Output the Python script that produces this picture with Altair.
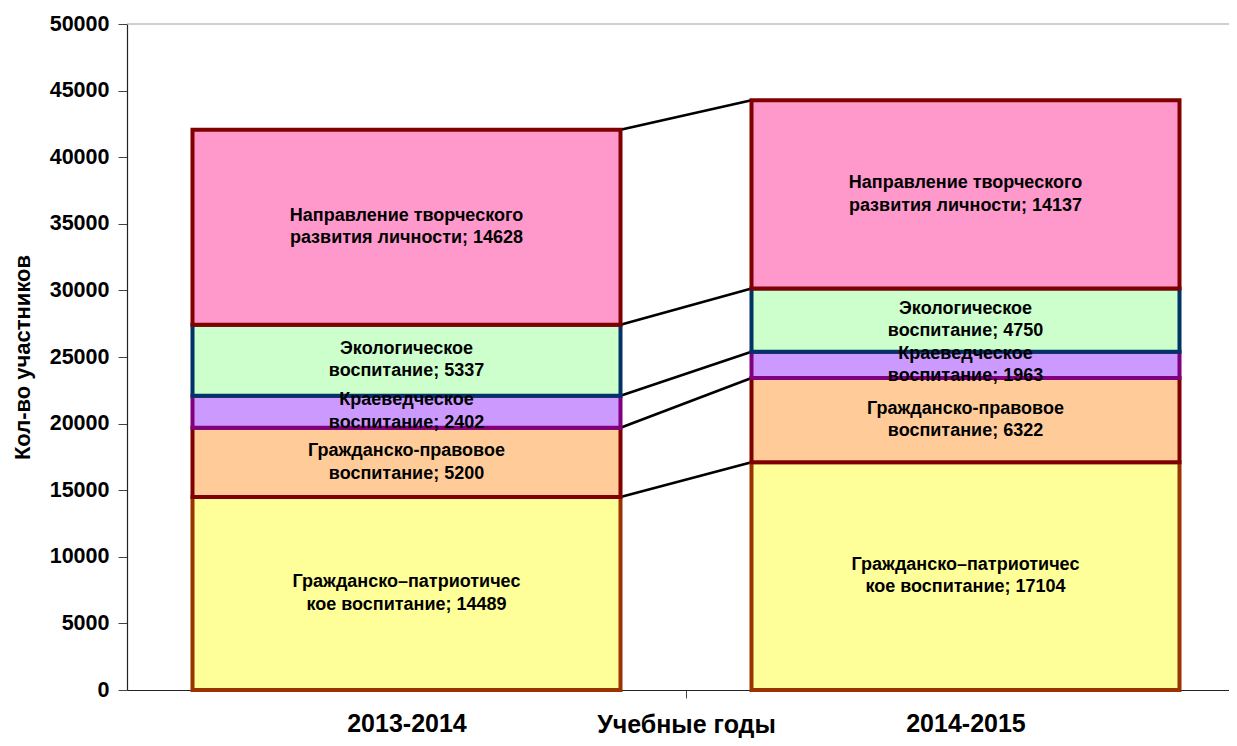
import altair as alt
import pandas as pd

# ---- data ----
years = ["2013-2014", "2014-2015"]
categories = [
    "Гражданско–патриотическое воспитание",
    "Гражданско-правовое воспитание",
    "Краеведческое воспитание",
    "Экологическое воспитание",
    "Направление творческого развития личности",
]
label_line1 = ["Гражданско–патриотичес", "Гражданско-правовое", "Краеведческое",
               "Экологическое", "Направление творческого"]
label_line2 = ["кое воспитание", "воспитание", "воспитание", "воспитание",
               "развития личности"]
values_2013 = [14489, 5200, 2402, 5337, 14628]
values_2014 = [17104, 6322, 1963, 4750, 14137]
fill_colors = ["#FFFF99", "#FFCC99", "#CC99FF", "#CCFFCC", "#FF99CC"]
stroke_colors = ["#993300", "#800000", "#800080", "#003366", "#800000"]
y_ticks = list(range(0, 50001, 5000))

# ---- layout constants ----
PLOT_W, PLOT_H = 1102, 666
UNIT_PX = 559.0              # pixels per category band
X_MAX = PLOT_W / UNIT_PX
HALF = 214.0 / UNIT_PX       # half bar width in band units
FONT = "Liberation Sans"
LINE_H = 22.5

rows = []
for yi, (yr, vals) in enumerate(zip(years, [values_2013, values_2014])):
    cum = 0
    for ci, cat in enumerate(categories):
        v = vals[ci]
        rows.append(dict(year=yr, idx=yi, cat=cat, y0=cum, y1=cum + v,
                         label=f"{label_line1[ci]}\n{label_line2[ci]}; {v}"))
        cum += v
df = pd.DataFrame(rows)

conn = []
ca, cb = 0, 0
for ci, cat in enumerate(categories):
    ca += values_2013[ci]
    cb += values_2014[ci]
    conn.append(dict(cat=cat, top_a=ca, top_b=cb))
df_conn = pd.DataFrame(conn)

xscale = alt.Scale(domain=[0, X_MAX], nice=False, zero=False)
yscale = alt.Scale(domain=[0, 50000], nice=False)

label_expr = " : ".join(
    [f"datum.value == {i + 0.5} ? '{y}'" for i, y in enumerate(years)]) + " : ''"

xaxis = alt.Axis(
    values=[0.5, 1, 1.5], labelExpr=label_expr, title="Учебные годы",
    grid=False, tickSize=8, tickColor="#444",
    tickOpacity={"condition": {"test": "datum.value == 1", "value": 1}, "value": 0},
    labelFont=FONT, labelFontSize=25, labelFontWeight="bold", labelColor="black",
    labelPadding=13, labelOverlap=False, labelFlush=False,
    titleFont=FONT, titleFontSize=25, titleFontWeight="bold", titleColor="black",
    titleX=559, titleY=42, titleBaseline="alphabetic", titleAlign="center",
    domainColor="#222", domainWidth=1.2,
)
yaxis = alt.Axis(
    values=y_ticks, format="d", grid=False, tickSize=9, tickColor="#444",
    labelFont=FONT, labelFontSize=21.5, labelFontWeight="bold", labelColor="black",
    labelPadding=9,
    title="Кол-во участников", titleFont=FONT, titleFontSize=22,
    titleFontWeight="bold", titleColor="black", titlePadding=15,
    domainColor="#222", domainWidth=1.2,
)

top_line = alt.Chart(pd.DataFrame({"v": [50000]})).mark_rule(
    color="#A0A0A0", strokeWidth=1.2
).encode(y=alt.Y("v:Q", scale=yscale, axis=yaxis))

connectors = alt.Chart(df_conn).transform_calculate(
    xa=f"0.5 + {HALF}", xb=f"1.5 - {HALF}"
).mark_rule(color="black", strokeWidth=2.6).encode(
    x=alt.X("xa:Q", scale=xscale, axis=xaxis),
    x2="xb:Q",
    y=alt.Y("top_a:Q", scale=yscale, axis=yaxis),
    y2="top_b:Q",
)

bars = alt.Chart(df).transform_calculate(
    xl=f"datum.idx + 0.5 - {HALF}", xr=f"datum.idx + 0.5 + {HALF}"
).mark_bar(strokeWidth=4).encode(
    x=alt.X("xl:Q", scale=xscale, axis=xaxis),
    x2="xr:Q",
    y=alt.Y("y0:Q", scale=yscale, axis=yaxis),
    y2="y1:Q",
    fill=alt.Fill("cat:N", scale=alt.Scale(domain=categories, range=fill_colors), legend=None),
    stroke=alt.Stroke("cat:N", scale=alt.Scale(domain=categories, range=stroke_colors), legend=None),
)

labels = alt.Chart(df).transform_calculate(
    xc="datum.idx + 0.5", ym="(datum.y0 + datum.y1) / 2"
).mark_text(
    font=FONT, fontSize=18, fontWeight="bold", color="black",
    lineBreak="\n", lineHeight=LINE_H, baseline="middle", align="center",
    dy=-LINE_H / 2,
).encode(
    x=alt.X("xc:Q", scale=xscale, axis=xaxis),
    y=alt.Y("ym:Q", scale=yscale, axis=yaxis),
    text="label:N",
)

chart = alt.layer(top_line, connectors, bars, labels).properties(
    width=PLOT_W, height=PLOT_H,
    autosize=alt.AutoSizeParams(type="none"),
    padding={"left": 119, "top": 16, "right": 0, "bottom": 48},
    background="white",
).configure_view(stroke=None)

chart.save("out.html", embed_options={"renderer": "svg", "actions": False})
